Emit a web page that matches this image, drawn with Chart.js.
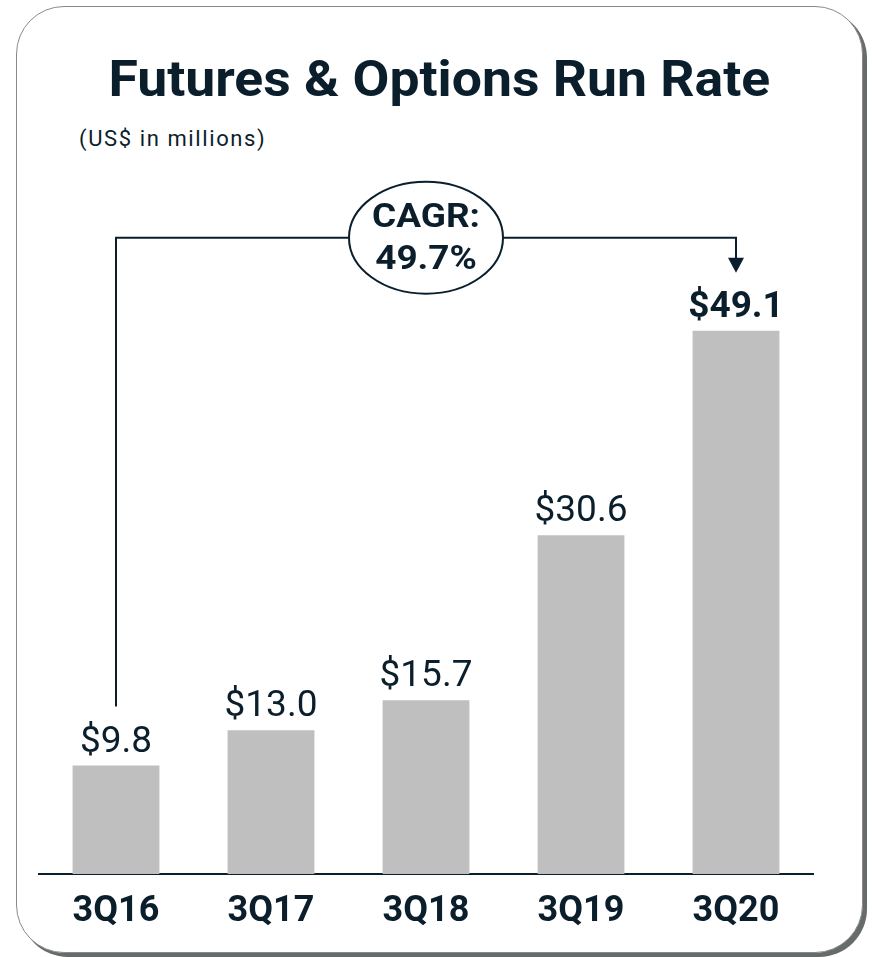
<!DOCTYPE html>
<html>
<head>
<meta charset="utf-8">
<script src="https://cdn.jsdelivr.net/npm/chart.js@4"></script>
<style>
  html, body { margin: 0; padding: 0; background: #fff; }
  body { width: 872px; height: 957px; position: relative; overflow: hidden; font-family: Roboto, sans-serif; }
  .card {
    position: absolute; left: 16px; top: 6px; width: 845px; height: 945px;
    border: 1px solid #8a8a8a; border-radius: 48px;
    box-shadow: 4px 4px 0 #666b6b; background: #fff;
  }
  .title {
    position: absolute; left: 16px; width: 847px; top: 50px; text-align: center;
    font: bold 50px Roboto; line-height: normal; color: #0b1e2c;
    transform: scaleX(1.07); transform-origin: 426px 0;
  }
  .sub {
    position: absolute; left: 79px; top: 126px;
    font: 22px Roboto; letter-spacing: 1.6px; line-height: normal; color: #0b1e2c;
  }
  #myChart { position: absolute; left: 0; top: 0; }
</style>
</head>
<body>
<div class="card"></div>
<div class="title">Futures &amp; Options Run Rate</div>
<div class="sub">(US$ in millions)</div>
<canvas id="myChart" width="872" height="957"></canvas>
<script>
///////Data
const categories = ['3Q16', '3Q17', '3Q18', '3Q19', '3Q20'];
const runRate = [9.8, 13.0, 15.7, 30.6, 49.1];
const valueLabels = ['$9.8', '$13.0', '$15.7', '$30.6', '$49.1'];
const cagrText = ['CAGR:', '49.7%'];

const navy = '#0b1e2c';

////// value labels above bars
const barLabels = {
  id: 'barLabels',
  afterDatasetsDraw(chart) {
    const ctx = chart.ctx;
    const bars = chart.getDatasetMeta(0).data;
    ctx.save();
    ctx.fillStyle = navy;
    ctx.textAlign = 'center';
    ctx.textBaseline = 'alphabetic';
    bars.forEach((bar, i) => {
      const last = i === bars.length - 1;
      ctx.font = (last ? 'bold ' : '') + '37px Roboto';
      ctx.fillText(valueLabels[i], bar.x, bar.y - 14);
    });
    ctx.restore();
  },
};

////// CAGR connector
const cagrArrow = {
  id: 'cagrArrow',
  afterDatasetsDraw(chart) {
    const ctx = chart.ctx;
    const bars = chart.getDatasetMeta(0).data;
    const first = bars[0];
    const last = bars[bars.length - 1];
    const lineY = chart.scales.y.getPixelForValue(57.5);
    const cx = chart.scales.x.getPixelForValue(2);
    const rx = 77, ry = 56;

    ctx.save();
    ctx.strokeStyle = navy;
    ctx.fillStyle = navy;
    ctx.lineWidth = 2;

    ctx.beginPath();
    ctx.moveTo(first.x, first.y - 59);
    ctx.lineTo(first.x, lineY);
    ctx.lineTo(cx - rx, lineY);
    ctx.moveTo(cx + rx, lineY);
    ctx.lineTo(last.x, lineY);
    ctx.lineTo(last.x, last.y - 70);
    ctx.stroke();

    // arrow head
    ctx.beginPath();
    ctx.moveTo(last.x - 8, last.y - 73);
    ctx.lineTo(last.x + 8, last.y - 73);
    ctx.lineTo(last.x, last.y - 58);
    ctx.closePath();
    ctx.fill();

    // ellipse
    ctx.beginPath();
    ctx.ellipse(cx, lineY, rx, ry, 0, 0, Math.PI * 2);
    ctx.fillStyle = '#fff';
    ctx.fill();
    ctx.stroke();

    // text, a little wider than the plain font
    ctx.fillStyle = navy;
    ctx.font = 'bold 33px Roboto';
    ctx.textAlign = 'center';
    ctx.textBaseline = 'alphabetic';
    ctx.translate(cx, lineY);
    ctx.scale(1.12, 1);
    ctx.fillText(cagrText[0], 0, -11);
    ctx.fillText(cagrText[1], 0, 31);
    ctx.restore();
  },
};

//////Chart
const ctx = document.getElementById('myChart').getContext('2d');
const chart = new Chart(ctx, {
  type: 'bar',
  data: {
    labels: categories,
    datasets: [
      {
        label: 'Run Rate',
        backgroundColor: '#bfbfbf',
        data: runRate,
        barPercentage: 0.56,
        categoryPercentage: 1,
      },
    ],
  },
  options: {
    responsive: false,
    animation: false,
    layout: { padding: { left: 38.5, right: 58.5, top: 210, bottom: 0 } },
    plugins: { legend: { display: false }, tooltip: { enabled: false } },
    scales: {
      y: { display: false, min: 0, max: 60 },
      x: {
        grid: { display: false, drawTicks: false },
        border: { display: true, color: navy, width: 2 },
        ticks: { color: navy, font: { family: 'Roboto', size: 36, weight: 'bold' }, padding: 16 },
        afterFit(axis) { axis.height = 83; },
      },
    },
  },
  plugins: [barLabels, cagrArrow],
});
</script>
</body>
</html>
